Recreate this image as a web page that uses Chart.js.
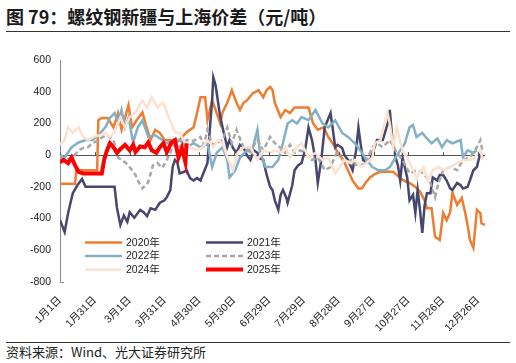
<!DOCTYPE html>
<html><head><meta charset="utf-8">
<script src="https://cdn.jsdelivr.net/npm/chart.js@4.4.0/dist/chart.umd.min.js"></script>
<style>
html,body{margin:0;padding:0;background:#fff;}
body{width:516px;height:363px;position:relative;overflow:hidden;}
#title{position:absolute;left:6px;top:6px;font-size:18px;line-height:20px;font-weight:bold;color:#1a1a1a;font-family:"Noto Sans CJK SC",sans-serif;white-space:nowrap;}
#tline{position:absolute;left:6px;top:31px;width:504px;height:1px;background:#333;}
#bline{position:absolute;left:6px;top:342px;width:504px;height:1px;background:#333;}
#source{position:absolute;left:6px;top:344px;font-size:13px;line-height:15px;color:#222;font-family:"Noto Sans CJK SC",sans-serif;white-space:nowrap;}
#wrap{position:absolute;left:0;top:36px;width:516px;height:304px;}
</style></head>
<body>
<div id="title">图 79：螺纹钢新疆与上海价差（元/吨）</div>
<div id="tline"></div>
<div id="wrap"><canvas id="c" width="516" height="304"></canvas></div>
<div id="bline"></div>
<div id="source">资料来源：Wind、光大证券研究所</div>
<script>
const seriesNames = ['2020年','2021年','2022年','2023年','2024年','2025年'];
const tickDays = [0,30,60,90,120,150,180,210,240,270,300,330,360];
const tickLabels = ['1月1日','1月31日','3月1日','3月31日','4月30日','5月30日','6月29日','7月29日','8月28日','9月27日','10月27日','11月26日','12月26日'];

const days2020 = [0,13,14,32,33,36,41,46,50,53,56,59,62,66,71,74,78,82,86,90,95,99,103,109,115,118,121,125,127,131,134,138,140,144,148,152,155,158,161,166,171,175,178,181,183,185,190,194,198,202,208,214,218,222,227,231,237,239,244,248,252,257,260,263,267,271,276,282,287,293,297,301,306,310,314,316,320,323,327,330,333,336,338,342,346,349,351,353,356,359,362,363,366];
const vals2020 = [-180,-180,-95,-95,220,235,235,175,265,160,235,315,175,220,270,190,95,160,140,95,95,75,95,145,175,265,365,365,220,345,285,200,270,330,410,330,285,330,345,390,410,365,410,430,410,330,240,285,265,300,300,300,200,160,175,115,50,15,-30,-95,-160,-210,-210,-175,-140,-120,-105,-105,-105,-145,-165,-175,-200,-230,-285,-335,-335,-515,-535,-365,-410,-360,-235,-315,-270,-365,-440,-535,-585,-345,-365,-430,-440];

const days2021 = [0,4,7,11,15,19,22,34,47,49,52,55,58,60,64,69,72,75,78,82,86,90,92,95,97,99,101,103,107,109,112,115,118,121,124,127,129,131,132,134,135,138,140,144,146,149,152,155,158,161,164,167,170,172,175,178,181,183,185,188,190,192,195,196,200,202,205,208,211,214,217,220,222,225,228,233,235,237,239,243,245,248,252,255,257,259,261,264,267,270,273,278,283,284,286,289,291,293,295,299,301,304,306,308,310,312,314,316,319,321,325,327,330,333,336,338,342,345,347,351,353,356,359,362,364];
const vals2021 = [-410,-485,-365,-240,-190,-150,-200,-200,-200,-330,-440,-380,-420,-360,-395,-345,-360,-385,-335,-345,-300,-285,-265,-220,-75,-30,-45,-115,-105,-95,-145,-160,-145,-160,-105,-50,160,345,490,440,390,240,175,50,95,45,15,65,50,0,-30,30,15,-20,-30,-125,-200,-220,-285,-345,-250,-220,-270,-300,-190,-95,-65,-50,30,175,95,-30,-175,-30,175,265,160,50,65,45,0,-30,-95,30,175,65,-30,-45,-30,30,95,95,220,285,115,-15,-65,-160,-15,-140,-285,-250,-365,-220,-345,-490,-315,-240,-240,-140,-160,-125,-125,-160,-210,-220,-175,-190,-210,-200,-160,-95,-75,15,-15];

const days2022 = [0,4,10,16,22,28,33,39,43,47,50,53,56,59,63,67,71,76,82,88,92,97,103,109,115,121,127,131,135,140,144,146,151,155,161,165,170,172,177,183,188,192,196,200,204,208,214,220,226,231,237,243,248,254,260,264,269,274,280,284,289,293,297,301,304,307,312,316,320,325,329,333,338,345,347,351,356,359];
const vals2022 = [0,-15,50,80,95,95,125,175,235,265,210,285,175,235,80,175,220,115,125,95,75,95,95,50,75,50,75,-75,15,50,-30,-140,-95,-15,30,15,160,30,-75,-75,-30,75,200,220,200,240,220,285,200,175,220,140,115,75,15,-30,-75,-95,-95,-75,-15,30,75,175,190,115,140,105,75,105,50,95,75,95,-15,30,15,30];

const days2023 = [0,4,11,16,20,24,28,33,37,41,46,50,56,60,65,67,71,76,80,84,88,92,95,97,101,105,109,115,121,124,127,131,135,140,144,148,152,158,164,170,175,181,185,190,194,198,202,207,211,217,222,228,233,239,245,251,257,263,269,273,278,284,290,295,301,307,313,319,323,326,330,336,342,347,353,359,362,364];
const vals2023 = [-15,-30,-15,30,45,50,75,95,115,125,95,-15,-45,-75,-125,-160,-210,-170,-65,-50,-80,-30,15,65,45,65,95,90,115,65,160,65,75,95,175,75,160,50,30,95,30,115,75,45,15,65,15,30,15,-30,-15,-95,-75,30,-50,-30,-75,-50,50,75,50,95,15,-30,-115,-95,-115,-175,-265,-175,-95,-75,-95,-30,-15,50,95,20];

const days2024 = [0,4,7,11,16,20,24,29,34,39,43,47,52,56,60,65,71,75,79,84,88,90,92,95,99,103,108,112,118,123,127,132,136,140,145,149,153,158,164,170,175,181,185,190,194,198,202,208,214,220,226,231,237,241,245,250,254,260,264,269,271,276,278,282,284,287,290,295,299,303,307,313,317,321,326,331,336,342,347,353,357,362,364];
const vals2024 = [65,95,175,140,175,115,95,115,125,140,115,145,235,175,240,270,345,300,365,300,330,315,265,220,145,140,75,50,30,50,95,50,95,75,-30,-95,15,50,50,-30,30,15,30,15,50,-15,30,75,-15,15,-30,-15,-115,-75,-30,-50,-30,-75,-50,-15,75,95,160,270,200,50,175,30,-15,-75,-140,-75,-160,-95,-75,-95,-75,-50,-30,-30,-15,30,-30];

const days2025 = [0,3,7,10,13,16,20,30,36,38,40,43,46,49,53,56,60,63,65,69,73,76,79,83,86,89,92,96,99,102,105,108,109];
const vals2025 = [-45,-30,-50,-15,-65,-105,-115,-115,-115,-30,20,75,50,15,45,65,30,65,20,55,50,80,30,15,50,75,20,80,95,-15,45,-45,75];

const pts = (d, v) => d.map((x, i) => ({x: x, y: v[i]}));

const styles = [
  {color:'#ED7D31', width:2.5, dash:[], order:5},
  {color:'#46466E', width:2.5, dash:[], order:4},
  {color:'#82B0C7', width:2.5, dash:[], order:3},
  {color:'#A8A8A8', width:2.5, dash:[5,3], order:2},
  {color:'#FCE1D0', width:2.5, dash:[], order:1},
  {color:'#FF0000', width:4, dash:[], order:0}
];
const allData = [pts(days2020,vals2020), pts(days2021,vals2021), pts(days2022,vals2022), pts(days2023,vals2023), pts(days2024,vals2024), pts(days2025,vals2025)];

const datasets = allData.map((d, i) => ({
  label: seriesNames[i], data: d,
  borderColor: styles[i].color, backgroundColor: styles[i].color,
  borderWidth: styles[i].width, borderDash: styles[i].dash,
  pointRadius: 0, tension: 0, fill: false, order: styles[i].order
}));

const FONT = "'Liberation Sans', Arial, 'Noto Sans CJK SC', sans-serif";

const extras = {
  id: 'extras',
  afterDatasetsDraw(chart) {
    const ctx = chart.ctx;
    const xs = chart.scales.x, ys = chart.scales.y;
    const y0 = ys.getPixelForValue(0);
    ctx.save();
    ctx.strokeStyle = '#555'; ctx.lineWidth = 1;
    tickDays.forEach(d => {
      const px = Math.round(xs.getPixelForValue(d)) + 0.5;
      ctx.beginPath(); ctx.moveTo(px, y0); ctx.lineTo(px, y0 - 3); ctx.stroke();
    });
    const yb = Math.round(ys.getPixelForValue(-800)) + 0.5;
    ctx.strokeStyle = '#888';
    ctx.beginPath(); ctx.moveTo(xs.left, yb); ctx.lineTo(xs.left + 4, yb); ctx.stroke();
    // legend
    const colX = [85, 206];
    const rowY = [206.5, 220, 233.5];
    ctx.font = '10.5px ' + FONT;
    ctx.textBaseline = 'middle';
    ctx.fillStyle = '#222';
    chart.data.datasets.forEach((ds, i) => {
      const cx = colX[i % 2], cy = rowY[Math.floor(i / 2)];
      ctx.strokeStyle = ds.borderColor;
      ctx.lineWidth = ds.borderWidth;
      ctx.setLineDash(ds.borderDash || []);
      ctx.beginPath(); ctx.moveTo(cx, cy); ctx.lineTo(cx + 37, cy); ctx.stroke();
      ctx.setLineDash([]);
      ctx.fillText(ds.label, cx + 41, cy + 0.5);
    });
    ctx.restore();
  }
};

new Chart(document.getElementById('c'), {
  type: 'line',
  data: { datasets: datasets },
  options: {
    responsive: false, animation: false, devicePixelRatio: 1,
    layout: { padding: { top: 24, right: 31, left: 0, bottom: 0 } },
    plugins: { legend: { display: false }, tooltip: { enabled: false } },
    scales: {
      x: {
        type: 'linear', min: 0, max: 366, position: 'bottom',
        grid: { display: false }, border: { display: false },
        ticks: {
          autoSkip: false, maxRotation: 45, minRotation: 45, padding: 4,
          color: '#222', font: { size: 10.5, family: FONT },
          callback: (v) => { const k = tickDays.indexOf(v); return k >= 0 ? tickLabels[k] : ''; }
        },
        afterBuildTicks: (s) => { s.ticks = tickDays.map(v => ({ value: v })); },
        afterFit: (s) => { s.height = 58; }
      },
      y: {
        min: -800, max: 600,
        ticks: { stepSize: 200, padding: 9, color: '#222', font: { size: 10.5, family: FONT } },
        grid: { drawTicks: false, color: (c) => (c.tick && c.tick.value === 0) ? '#555' : 'rgba(0,0,0,0)', lineWidth: 1 },
        border: { display: true, color: '#888', width: 1 },
        afterFit: (s) => { s.width = 60; }
      }
    }
  },
  plugins: [extras]
});
</script>
</body></html>
